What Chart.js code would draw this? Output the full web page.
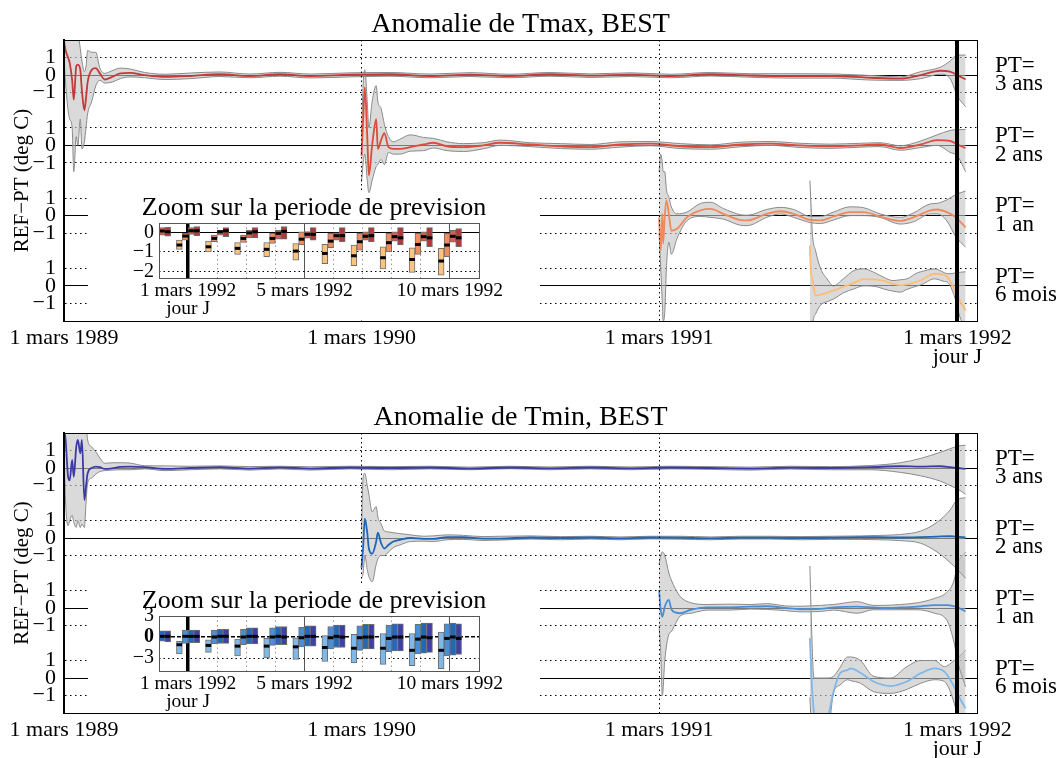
<!DOCTYPE html>
<html lang="fr">
<head>
<meta charset="utf-8">
<title>Anomalies de Tmax et Tmin, BEST</title>
<script src="https://cdn.jsdelivr.net/npm/chart.js@4.4.1/dist/chart.umd.min.js"></script>
<style>
  html, body { margin:0; padding:0; background:#fff; }
  #page { position:relative; width:1056px; height:758px; overflow:hidden; background:#fff; }
  #page canvas { position:absolute; }
  #mainMax { left:0; top:0; }
  #mainMin { left:0; top:393px; }
  #zoomMax { left:88px; top:193px; background:#fff; }
  #zoomMin { left:88px; top:586px; background:#fff; }
</style>
</head>
<body>
<div id="page">
  <canvas id="mainMax" width="1056" height="393"></canvas>
  <canvas id="mainMin" width="1056" height="365"></canvas>
  <canvas id="zoomMax" width="452" height="127"></canvas>
  <canvas id="zoomMin" width="452" height="127"></canvas>
</div>
<script>
// ================= DATA =================
// x = days since 1 mars 1989
const XTICK_DAYS = [0, 365, 730, 1096];
const XTICK_LABELS = ['1 mars 1989', '1 mars 1990', '1 mars 1991', ['1 mars 1992', 'jour J']];
const STRIP_NAMES = ['3 ans', '2 ans', '1 an', '6 mois'];
const STRIP_TICKS = [1, 0, -1];

// PT = 3 ans
const DAYS_3ANS = [0,2,5,7,10,12,15,17,20,22,25,27,29,34,39,44,50,59,69,81,99,124,155,191,228,265,302,351,400,449,498,547,596,646,695,744,793,842,891,940,989,1026,1051,1075,1087,1096,1106];
const TMAX_3ANS_MID = [1.9,1.4,1.0,0.7,-0.3,-1.4,0.5,0.6,0.3,-0.9,-2.0,-1.3,-0.4,0.3,0.4,0.1,-0.25,-0.1,0.1,0.13,0.0,-0.1,-0.05,0.05,-0.05,0.05,-0.05,0.02,0.05,-0.05,0.03,-0.05,0.05,-0.03,0.03,-0.05,0.05,-0.02,-0.05,-0.05,-0.15,-0.2,0.0,0.25,0.2,0.0,-0.25];
const TMAX_3ANS_HI = [3,3,3,3,3,2.5,3,2.5,1.5,0.8,0.2,0.5,1.4,1.3,1.3,0.4,0.1,0.25,0.4,0.35,0.15,0.05,0.12,0.18,0.06,0.16,0.06,0.13,0.15,0.06,0.14,0.05,0.15,0.07,0.13,0.05,0.15,0.08,0.08,0.07,-0.02,-0.1,0.2,0.45,0.8,1.14,1.14];
const TMAX_3ANS_LO = [1.0,-0.5,-2.0,-2.5,-3.0,-5.5,-3.5,-4.0,-2.5,-4.2,-3.8,-3.0,-2.2,-1.5,-0.6,-0.3,-0.45,-0.4,-0.2,-0.1,-0.15,-0.25,-0.2,-0.08,-0.15,-0.06,-0.16,-0.1,-0.06,-0.15,-0.08,-0.15,-0.06,-0.13,-0.08,-0.15,-0.05,-0.12,-0.17,-0.17,-0.28,-0.3,-0.2,0.05,-0.2,-1.2,-1.8];
const TMIN_3ANS_MID = [2.2,1.6,-0.5,-0.7,0.46,-0.5,1.2,1.6,0.84,1.6,-1.83,-1.07,-0.3,0.0,0.08,0.05,-0.05,-0.02,0.06,0.08,0.05,-0.05,0.0,0.05,-0.03,0.04,-0.03,0.03,0.0,0.03,-0.03,0.03,-0.02,0.03,-0.02,0.03,0.0,-0.03,0.02,0.0,0.05,0.1,0.08,0.1,0.05,0.0,-0.05];
const TMIN_3ANS_HI = [3,3,3,3,3,3,3,3,3,3,3,2.5,1.6,1.2,0.93,0.57,0.27,0.3,0.3,0.28,0.13,0.12,0.1,0.12,0.08,0.1,0.07,0.1,0.08,0.1,0.05,0.1,0.06,0.1,0.06,0.1,0.08,0.05,0.1,0.08,0.14,0.3,0.55,0.9,1.1,1.25,1.3];
const TMIN_3ANS_LO = [1.0,-2.0,-3.3,-3.0,-2.7,-3.1,-3.4,-3.0,-3.4,-3.2,-3.4,-2.0,-0.86,-0.57,-0.35,-0.2,-0.15,-0.12,-0.1,-0.1,-0.05,-0.15,-0.1,-0.05,-0.12,-0.05,-0.12,-0.05,-0.1,-0.05,-0.1,-0.04,-0.1,-0.05,-0.1,-0.05,-0.08,-0.12,-0.06,-0.1,-0.1,-0.25,-0.45,-0.75,-1.0,-1.2,-1.5];

// PT = 2 ans
const DAYS_2ANS = [365,367,369,372,374,378,383,385,389,393,398,404,412,425,441,453,470,490,514,535,572,609,646,682,719,756,793,830,866,903,940,977,1001,1026,1051,1071,1087,1096,1106];
const TMAX_2ANS_MID = [-0.6,1.5,3.3,0.5,-1.7,0.0,1.5,-0.2,0.3,0.7,-0.1,-0.2,-0.2,-0.1,0.05,0.15,-0.05,-0.1,0.0,0.15,0.05,-0.05,-0.1,0.05,0.1,-0.05,-0.1,0.05,0.1,0.0,-0.05,0.0,0.05,-0.15,0.05,0.3,0.25,0.05,-0.15];
const TMAX_2ANS_HI = [0.5,3.5,4.3,2.5,1.0,2.5,3.4,2.5,2.1,1.2,0.5,0.2,0.35,0.6,0.45,0.4,0.2,0.1,0.15,0.3,0.15,0.1,0.05,0.2,0.22,0.1,0.03,0.18,0.22,0.12,0.07,0.12,0.15,-0.02,0.25,0.6,0.85,0.9,0.9];
const TMAX_2ANS_LO = [-2.1,-1.0,-0.5,-2.0,-2.7,-2.0,-1.2,-1.1,-0.8,-1.1,-0.4,-0.5,-0.5,-0.33,-0.3,-0.15,-0.3,-0.35,-0.2,0.0,-0.07,-0.18,-0.22,-0.1,-0.02,-0.18,-0.22,-0.08,0.0,-0.12,-0.17,-0.1,-0.07,-0.28,-0.12,0.0,-0.4,-0.6,-1.5];
const TMIN_2ANS_MID = [-1.7,-0.5,1.1,0.3,-0.6,-0.9,-0.2,0.3,-0.3,-0.6,-0.4,-0.2,-0.1,0.0,-0.05,-0.05,0.05,0.05,-0.03,-0.03,0.03,0.0,0.03,-0.02,0.03,0.02,-0.02,0.02,0.02,0.0,0.02,0.05,0.05,0.03,0.05,0.08,0.1,0.08,0.03];
const TMIN_2ANS_HI = [0.5,3.5,3.7,3.0,2.5,1.5,1.8,1.2,0.8,0.4,0.35,0.3,0.25,0.18,0.1,0.12,0.18,0.15,0.08,0.1,0.12,0.08,0.1,0.06,0.1,0.1,0.06,0.1,0.1,0.08,0.1,0.12,0.15,0.2,0.4,0.9,1.6,2.2,2.3];
const TMIN_2ANS_LO = [-2.3,-2.0,-1.0,-1.8,-2.2,-2.5,-1.5,-1.2,-1.0,-1.0,-0.8,-0.55,-0.4,-0.2,-0.18,-0.2,-0.1,-0.08,-0.14,-0.12,-0.06,-0.1,-0.06,-0.1,-0.05,-0.07,-0.1,-0.06,-0.06,-0.1,-0.08,-0.08,-0.1,-0.15,-0.3,-0.8,-1.4,-1.8,-2.3];

// PT = 1 an
const DAYS_1AN_TMAX = [730,732,734,735,737,739,742,745,752,764,781,793,809,830,838,862,879,895,916,928,944,964,981,1001,1026,1042,1063,1071,1083,1094,1106];
const TMAX_1AN_MID = [-0.1,-2.0,0.1,-1.6,0.0,0.86,0.1,-0.86,-0.75,-0.1,0.3,0.38,0.1,-0.25,-0.27,0.1,0.25,0.1,-0.25,-0.27,-0.05,0.2,0.2,-0.05,-0.3,-0.1,0.3,0.35,0.2,-0.1,-0.67];
const TMAX_1AN_HI = [2.5,3.5,3.0,2.5,2.5,1.5,1.05,0.5,0.1,0.2,0.7,0.76,0.4,0.05,0.02,0.35,0.47,0.35,-0.05,-0.05,0.2,0.5,0.45,0.1,-0.1,0.15,0.67,0.7,0.9,1.2,1.4];
const TMAX_1AN_LO = [-1.0,-3.0,-5.0,-6.0,-5.5,-3.0,-1.5,-2.2,-1.3,-0.3,-0.05,-0.1,-0.2,-0.55,-0.57,-0.1,0.1,-0.1,-0.4,-0.45,-0.25,0.0,0.0,-0.1,-0.48,-0.35,0.1,0.1,-0.3,-1.2,-1.8];
const DAYS_1AN_TMIN = [730,732,734,737,742,745,750,756,769,789,817,842,862,885,903,928,944,973,993,1005,1026,1047,1068,1083,1092,1096,1106];
const TMIN_1AN_MID = [1.03,-0.1,-0.5,0.08,0.46,-0.07,-0.25,-0.3,-0.1,0.04,0.04,0.08,0.1,0.0,-0.07,-0.05,0.04,0.08,0.03,0.0,0.03,0.08,0.17,0.17,0.1,0.04,-0.2];
const TMIN_1AN_HI = [2.5,3.0,3.2,3.0,2.0,1.6,1.1,0.65,0.3,0.2,0.22,0.2,0.25,0.12,0.1,0.15,0.2,0.36,0.15,0.15,0.2,0.3,0.55,0.9,1.6,2.5,3.2];
const TMIN_1AN_LO = [-1.0,-2.5,-5.0,-3.0,-1.5,-1.35,-0.9,-0.45,-0.3,-0.12,-0.12,-0.06,-0.08,-0.15,-0.22,-0.2,-0.12,-0.3,-0.1,-0.1,-0.1,-0.1,-0.3,-0.7,-2.0,-3.0,-4.5];

// PT = 6 mois
const DAYS_6MOIS_TMAX = [915,916,918,922,928,936,944,956,969,981,997,1005,1017,1026,1034,1047,1051,1068,1080,1084,1092,1100,1106];
const TMAX_6MOIS_MID = [2.3,0.97,0.4,-0.55,-0.5,-0.4,-0.27,-0.05,0.17,0.38,0.35,0.3,0.12,0.03,0.08,0.25,0.32,0.69,0.62,0.5,-0.17,-0.93,-1.4];
const TMAX_6MOIS_HI = [6,5,3,2.0,1.0,0.4,0.0,0.4,0.87,0.97,0.69,0.5,0.3,0.35,0.4,0.75,0.8,0.97,0.75,0.69,0.72,0.78,0.8];
const TMAX_6MOIS_LO = [-6,-6,-2.5,-1.6,-1.1,-0.9,-0.75,-0.4,-0.17,0.0,-0.05,-0.17,-0.3,-0.36,-0.2,0.0,0.05,0.4,0.25,0.2,-0.55,-1.9,-2.3];
const DAYS_6MOIS_TMIN = [915,917,920,928,936,944,952,961,965,977,993,1014,1034,1051,1068,1080,1092,1100,1106];
const TMIN_6MOIS_MID = [2.27,0.0,-2.0,-3.5,-2.5,-0.8,0.27,0.45,0.55,0.3,-0.2,-0.46,-0.2,0.27,0.55,0.36,-0.5,-1.26,-1.73];
const TMIN_6MOIS_HI = [6.4,3.0,0.0,0.0,0.0,0.1,0.6,1.2,1.2,1.0,0.1,0.0,0.65,1.0,1.0,0.65,1.0,1.3,1.6];
const TMIN_6MOIS_LO = [-1.1,-3.0,-5.0,-5.0,-4.0,-0.86,-0.4,-0.1,-0.15,-0.3,-0.78,-0.88,-0.65,-0.3,-0.1,-0.2,-1.43,-3.0,-4.0];

// Zoom on the forecast period: day index (1 = 1 mars 1992), [low, high, median]
const ZOOM_DAYS = [0,1,2,3,4,5,6,7,8,9,10];
const ZOOM_TICK_DAYS = [1,2,3,4,5,6,7,8,9,10];
const ZOOM_LABEL_DAYS = [1, 5, 10];
const ZOOM_LABELS = [['1 mars 1992', 'jour J'], '5 mars 1992', '10 mars 1992'];
const ZOOM_SERIES = ['6 mois', '1 an', '2 ans', '3 ans'];

const TMAX_Z_6MOIS = [[-0.3,0.2,0.0],[-0.87,-0.4,-0.65],[-1.0,-0.45,-0.74],[-1.13,-0.52,-0.82],[-1.25,-0.52,-0.87],[-1.43,-0.57,-0.96],[-1.6,-0.62,-1.08],[-1.71,-0.65,-1.2],[-1.88,-0.74,-1.3],[-2.05,-0.79,-1.39],[-2.19,-0.82,-1.47]];
const TMAX_Z_1AN = [[-0.2,0.2,0.0],[-0.4,-0.05,-0.19],[-0.48,-0.14,-0.31],[-0.52,-0.14,-0.31],[-0.57,-0.05,-0.31],[-0.65,0.03,-0.35],[-0.79,-0.05,-0.45],[-0.91,-0.05,-0.48],[-1.0,-0.05,-0.53],[-1.13,-0.05,-0.62],[-1.25,-0.05,-0.65]];
const TMAX_Z_2ANS = [[-0.14,0.24,0.07],[-0.1,0.24,0.08],[-0.14,0.12,0.03],[-0.28,0.12,-0.03],[-0.35,0.12,-0.05],[-0.3,0.04,-0.1],[-0.4,0.0,-0.17],[-0.4,0.03,-0.2],[-0.45,0.03,-0.22],[-0.45,0.03,-0.22],[-0.5,0.1,-0.2]];
const TMAX_Z_3ANS = [[-0.19,0.26,0.03],[-0.17,0.3,0.08],[-0.22,0.24,0.08],[-0.28,0.24,0.03],[-0.35,0.3,0.05],[-0.4,0.24,-0.1],[-0.48,0.24,-0.17],[-0.48,0.24,-0.17],[-0.65,0.24,-0.28],[-0.74,0.24,-0.28],[-0.74,0.2,-0.28]];

const TMIN_Z_6MOIS = [[-0.8,0.9,0.0],[-2.4,-0.6,-1.1],[-2.2,-0.4,-1.2],[-2.7,-0.3,-1.3],[-3.0,-0.2,-1.3],[-3.2,0.0,-1.4],[-3.5,0.2,-1.5],[-3.7,0.4,-1.6],[-3.9,0.5,-1.6],[-4.1,0.5,-1.9],[-4.5,0.7,-1.9]];
const TMIN_Z_1AN = [[-0.7,0.9,0.1],[-0.9,1.0,0.1],[-1.0,1.0,0.0],[-1.1,1.1,0.0],[-1.2,1.3,0.0],[-1.4,1.4,-0.1],[-1.7,1.5,-0.1],[-1.9,1.6,-0.1],[-2.1,1.7,-0.2],[-2.4,1.8,-0.3],[-2.7,1.9,-0.2]];
const TMIN_Z_2ANS = [[-0.6,0.9,0.1],[-0.8,1.0,0.1],[-0.9,1.1,0.1],[-1.0,1.3,0.1],[-1.1,1.5,0.1],[-1.3,1.6,0.1],[-1.5,1.7,0.1],[-1.7,1.8,0.0],[-2.0,1.9,0.0],[-2.3,2.0,0.0],[-2.6,2.0,0.0]];
const TMIN_Z_3ANS = [[-0.7,0.9,0.1],[-0.8,1.0,0.1],[-0.9,1.1,0.1],[-1.0,1.3,0.1],[-1.1,1.5,0.0],[-1.3,1.6,0.1],[-1.5,1.7,0.0],[-1.7,1.8,0.0],[-2.0,1.9,0.0],[-2.2,2.0,-0.1],[-2.5,1.9,-0.2]];

// ================= LAYOUT / STYLE =================
const X_MIN = 0, X_MAX = 1120, JOUR_J = 1096;
const STRIP_OFFSETS = [0, -4, -8, -12];
const Y_MIN = -14, Y_MAX = 2;
const BAR_OFFSETS = [-0.3, -0.1, 0.1, 0.3];
const TMAX_LINE_COLORS = ['#c23b3b', '#dd4b3a', '#f08a5c', '#fdbd76'];
const TMIN_LINE_COLORS = ['#3b3ba8', '#1f66b8', '#4a8ed6', '#7fb7e8'];
const TMAX_ZOOM_COLORS = ['#fdc47f', '#ef8c60', '#d6604d', '#b2393b'];
const TMIN_ZOOM_COLORS = ['#80b9e8', '#4b8ed4', '#2168b6', '#3e40a6'];
const BAND_FILL = 'rgba(196,196,196,0.62)';
const BAND_EDGE = '#8a8a8a';
const FONT = "'Liberation Serif', 'Times New Roman', serif";

Chart.defaults.font.family = FONT;
Chart.defaults.color = '#000';

const framePlugin = {
  id: 'frame',
  afterDraw(chart, args, opts) {
    const a = chart.chartArea, ctx = chart.ctx;
    ctx.save();
    ctx.strokeStyle = opts.color || '#000';
    ctx.lineWidth = opts.width || 1;
    ctx.setLineDash([]);
    ctx.strokeRect(Math.round(a.left) + 0.5, Math.round(a.top) + 0.5, Math.round(a.right - a.left), Math.round(a.bottom - a.top));
    ctx.restore();
  }
};
Chart.register(framePlugin);

const minus = v => (v < 0 ? '\u2212' + Math.abs(v) : String(v));
const nearestBase = v => STRIP_OFFSETS.reduce((b, o) => (Math.abs(v - o) < Math.abs(v - b) ? o : b), STRIP_OFFSETS[0]);
const Y_TICKS = [];
STRIP_OFFSETS.forEach(o => STRIP_TICKS.forEach(t => Y_TICKS.push(o + t)));

function bandDatasets(days, lo, hi, mid, offset, color) {
  const pts = arr => days.map((d, i) => ({ x: d, y: arr[i] + offset }));
  const common = { pointRadius: 0, pointHoverRadius: 0, cubicInterpolationMode: 'monotone' };
  return [
    Object.assign({ data: pts(lo), borderColor: BAND_EDGE, borderWidth: 1, fill: false, order: 3 }, common),
    Object.assign({ data: pts(hi), borderColor: BAND_EDGE, borderWidth: 1, fill: '-1', backgroundColor: BAND_FILL, order: 3 }, common),
    Object.assign({ data: pts(mid), borderColor: color, borderWidth: 1.8, fill: false, order: 1 }, common)
  ];
}

function makeMain(id, titleText, strips, colors, axisHeight) {
  const datasets = [];
  strips.forEach((s, k) => datasets.push(...bandDatasets(s[0], s[1], s[2], s[3], STRIP_OFFSETS[k], colors[k])));
  new Chart(document.getElementById(id), {
    type: 'line',
    data: { datasets },
    options: {
      responsive: false, animation: false, devicePixelRatio: 1,
      events: [],
      layout: { padding: 0 },
      plugins: {
        legend: { display: false }, tooltip: { enabled: false },
        title: { display: true, fullSize: false, text: titleText, color: '#000', font: { size: 28, lineHeight: 1, weight: 'normal' }, padding: { top: 11, bottom: 1 } },
        frame: { color: '#000', width: 1 }
      },
      scales: {
        x: {
          type: 'linear', min: X_MIN, max: X_MAX,
          afterBuildTicks: sc => { sc.ticks = XTICK_DAYS.map(v => ({ value: v })); },
          afterFit: sc => { sc.height = axisHeight; },
          grid: {
            z: 1, drawTicks: false,
            color: c => (c.tick && c.tick.value > X_MIN ? '#000' : 'rgba(0,0,0,0)'),
            lineWidth: c => (c.tick && c.tick.value === JOUR_J ? 4 : 1)
          },
          border: { display: false, z: 1, dash: c => (c.tick && c.tick.value !== JOUR_J ? [1.5, 3] : []) },
          ticks: {
            autoSkip: false, maxRotation: 0, minRotation: 0, padding: 7, color: '#000',
            font: { size: 22, lineHeight: 0.9 },
            callback: v => { const i = XTICK_DAYS.indexOf(v); return i >= 0 ? XTICK_LABELS[i] : ''; }
          }
        },
        y: {
          type: 'linear', position: 'left', min: Y_MIN, max: Y_MAX,
          afterBuildTicks: sc => { sc.ticks = Y_TICKS.map(v => ({ value: v })); },
          afterFit: sc => { sc.width = 64; },
          grid: { drawTicks: false, color: '#000', lineWidth: 1 },
          border: { display: true, color: '#000', width: 2, dash: c => (c.tick ? (STRIP_OFFSETS.includes(c.tick.value) ? [] : [1.5, 3.5]) : []) },
          ticks: { autoSkip: false, padding: 8, color: '#000', font: { size: 22, lineHeight: 1 }, callback: v => minus(v - nearestBase(v)) },
          title: { display: true, text: 'REF\u2212PT (deg C)', color: '#000', font: { size: 21, lineHeight: 1.2 }, padding: { top: 9.5, bottom: 0 } }
        },
        yR: {
          type: 'linear', position: 'right', min: Y_MIN, max: Y_MAX,
          afterBuildTicks: sc => { sc.ticks = STRIP_OFFSETS.map(v => ({ value: v })); },
          afterFit: sc => { sc.width = 79; },
          grid: { display: false, drawTicks: false },
          border: { display: true, color: '#000', width: 1 },
          ticks: { autoSkip: false, padding: 18, color: '#000', font: { size: 23, lineHeight: 0.8 }, callback: v => ['PT=', STRIP_NAMES[STRIP_OFFSETS.indexOf(v)]] }
        }
      }
    }
  });
}

function makeZoom(id, tables, colors, yMin, yMax, yTicks, zeroStyle) {
  const datasets = [];
  tables.forEach((t, k) => {
    datasets.push({
      type: 'bar', label: ZOOM_SERIES[k],
      data: ZOOM_DAYS.map((d, i) => ({ x: d + BAR_OFFSETS[k], y: [t[i][0], t[i][1]] })),
      backgroundColor: colors[k], borderColor: '#6e6e6e', borderWidth: 1, borderSkipped: false,
      grouped: false, barPercentage: 1, categoryPercentage: 1, order: 2
    });
  });
  tables.forEach((t, k) => {
    datasets.push({
      type: 'line', label: ZOOM_SERIES[k] + ' médiane',
      data: ZOOM_DAYS.map((d, i) => ({ x: d + BAR_OFFSETS[k], y: t[i][2] })),
      showLine: false, pointStyle: 'line', pointRadius: 2.8, pointHoverRadius: 2.8,
      pointBorderWidth: 3, pointBorderColor: '#000', borderColor: '#000', order: 1
    });
  });
  new Chart(document.getElementById(id), {
    type: 'bar',
    data: { datasets },
    options: {
      responsive: false, animation: false, devicePixelRatio: 1, events: [],
      layout: { padding: 0 },
      plugins: {
        legend: { display: false }, tooltip: { enabled: false },
        title: { display: true, text: 'Zoom sur la periode de prevision', color: '#000', font: { size: 26, lineHeight: 1, weight: 'normal' }, padding: { top: 2, bottom: 2 } },
        frame: { color: '#555', width: 1 }
      },
      scales: {
        x: {
          type: 'linear', min: 0, max: 11, offset: false,
          afterBuildTicks: sc => { sc.ticks = ZOOM_TICK_DAYS.map(v => ({ value: v })); },
          afterFit: sc => { sc.height = 42; },
          grid: {
            offset: false, drawTicks: false,
            color: c => { const v = c.tick ? c.tick.value : 0; return v === 1 ? '#000' : (ZOOM_LABEL_DAYS.includes(v) ? '#555' : '#999'); },
            lineWidth: c => (c.tick && c.tick.value === 1 ? 3.5 : 1)
          },
          border: { display: false, dash: c => (c.tick && !ZOOM_LABEL_DAYS.includes(c.tick.value) ? [1.5, 3] : []) },
          ticks: {
            autoSkip: false, maxRotation: 0, minRotation: 0, padding: 3.5, color: '#000',
            font: { size: 19.5, lineHeight: 0.95 },
            callback: v => { const i = ZOOM_LABEL_DAYS.indexOf(v); return i >= 0 ? ZOOM_LABELS[i] : ''; }
          }
        },
        y: {
          type: 'linear', position: 'left', min: yMin, max: yMax,
          afterBuildTicks: sc => { sc.ticks = yTicks.map(v => ({ value: v })); },
          afterFit: sc => { sc.width = 71; },
          grid: { drawTicks: false, color: '#000', lineWidth: c => (c.tick && c.tick.value === 0 ? zeroStyle.width : 1) },
          border: { display: false, dash: c => (c.tick ? (c.tick.value === 0 ? zeroStyle.dash : [1.5, 3]) : []) },
          ticks: {
            autoSkip: false, padding: 5, color: '#000',
            font: c => ({ family: FONT, size: 20, lineHeight: 1.2, weight: (c.tick && c.tick.value === 0 && zeroStyle.bold) ? 'bold' : 'normal' }),
            callback: v => minus(v)
          }
        },
        yPad: {
          type: 'linear', position: 'right', display: true,
          afterFit: sc => { sc.width = 61; },
          grid: { display: false, drawTicks: false },
          border: { display: false },
          ticks: { display: false }
        }
      }
    }
  });
}

makeMain('mainMax', 'Anomalie de Tmax, BEST', [
  [DAYS_3ANS, TMAX_3ANS_LO, TMAX_3ANS_HI, TMAX_3ANS_MID],
  [DAYS_2ANS, TMAX_2ANS_LO, TMAX_2ANS_HI, TMAX_2ANS_MID],
  [DAYS_1AN_TMAX, TMAX_1AN_LO, TMAX_1AN_HI, TMAX_1AN_MID],
  [DAYS_6MOIS_TMAX, TMAX_6MOIS_LO, TMAX_6MOIS_HI, TMAX_6MOIS_MID]
], TMAX_LINE_COLORS, 72);

makeMain('mainMin', 'Anomalie de Tmin, BEST', [
  [DAYS_3ANS, TMIN_3ANS_LO, TMIN_3ANS_HI, TMIN_3ANS_MID],
  [DAYS_2ANS, TMIN_2ANS_LO, TMIN_2ANS_HI, TMIN_2ANS_MID],
  [DAYS_1AN_TMIN, TMIN_1AN_LO, TMIN_1AN_HI, TMIN_1AN_MID],
  [DAYS_6MOIS_TMIN, TMIN_6MOIS_LO, TMIN_6MOIS_HI, TMIN_6MOIS_MID]
], TMIN_LINE_COLORS, 45);

makeZoom('zoomMax', [TMAX_Z_6MOIS, TMAX_Z_1AN, TMAX_Z_2ANS, TMAX_Z_3ANS], TMAX_ZOOM_COLORS,
  -2.34, 0.48, [-2, -1, 0], { dash: [], width: 1, bold: false });

makeZoom('zoomMin', [TMIN_Z_6MOIS, TMIN_Z_1AN, TMIN_Z_2ANS, TMIN_Z_3ANS], TMIN_ZOOM_COLORS,
  -4.85, 3, [-3, 0, 3], { dash: [4, 2], width: 1.5, bold: true });
</script>
</body>
</html>
